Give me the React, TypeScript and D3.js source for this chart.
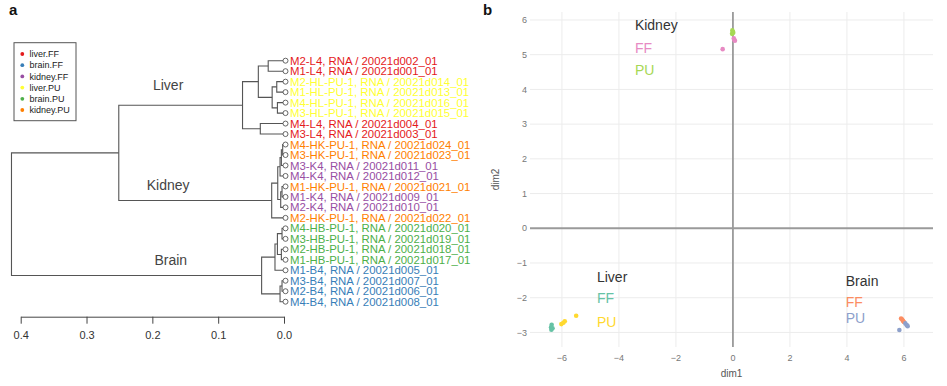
import React, { useEffect, useRef } from "react";
import * as d3 from "d3";

const W = 947;
const H = 386;

// ---- panel a: hierarchical clustering ----
const groups = ["liver.FF", "brain.FF", "kidney.FF", "liver.PU", "brain.PU", "kidney.PU"];
const groupColors = ["#e41a1c", "#377eb8", "#984ea3", "#ffff33", "#4daf4a", "#ff7f00"];

const leafLabels = [
  "M2-L4, RNA / 20021d002_01",
  "M1-L4, RNA / 20021d001_01",
  "M2-HL-PU-1, RNA / 20021d014_01",
  "M1-HL-PU-1, RNA / 20021d013_01",
  "M4-HL-PU-1, RNA / 20021d016_01",
  "M3-HL-PU-1, RNA / 20021d015_01",
  "M4-L4, RNA / 20021d004_01",
  "M3-L4, RNA / 20021d003_01",
  "M4-HK-PU-1, RNA / 20021d024_01",
  "M3-HK-PU-1, RNA / 20021d023_01",
  "M3-K4, RNA / 20021d011_01",
  "M4-K4, RNA / 20021d012_01",
  "M1-HK-PU-1, RNA / 20021d021_01",
  "M1-K4, RNA / 20021d009_01",
  "M2-K4, RNA / 20021d010_01",
  "M2-HK-PU-1, RNA / 20021d022_01",
  "M4-HB-PU-1, RNA / 20021d020_01",
  "M3-HB-PU-1, RNA / 20021d019_01",
  "M2-HB-PU-1, RNA / 20021d018_01",
  "M1-HB-PU-1, RNA / 20021d017_01",
  "M1-B4, RNA / 20021d005_01",
  "M3-B4, RNA / 20021d007_01",
  "M2-B4, RNA / 20021d006_01",
  "M4-B4, RNA / 20021d008_01",
];

const leafGroups = [
  "liver.FF", "liver.FF", "liver.PU", "liver.PU", "liver.PU", "liver.PU", "liver.FF", "liver.FF",
  "kidney.PU", "kidney.PU", "kidney.FF", "kidney.FF", "kidney.PU", "kidney.FF", "kidney.FF", "kidney.PU",
  "brain.PU", "brain.PU", "brain.PU", "brain.PU", "brain.FF", "brain.FF", "brain.FF", "brain.FF",
];

// hclust-style merge list: negative = leaf (1-based), positive = earlier merge
const merges: [number, number, number][] = [
  [-1, -2, 0.024],
  [-3, -4, 0.011],
  [-5, -6, 0.01],
  [2, 3, 0.018],
  [1, 4, 0.039],
  [-7, -8, 0.036],
  [5, 6, 0.063],
  [-9, -10, 0.002],
  [8, -11, 0.004],
  [9, -12, 0.006],
  [-13, -14, 0.003],
  [11, -15, 0.005],
  [10, 12, 0.0095],
  [13, -16, 0.0187],
  [7, 14, 0.251],
  [-17, -18, 0.003],
  [-19, -20, 0.004],
  [16, 17, 0.01],
  [18, -21, 0.0137],
  [-22, -23, 0.003],
  [20, -24, 0.006],
  [19, 21, 0.034],
  [15, 22, 0.414],
];

const heightTicks = [0.4, 0.3, 0.2, 0.1, 0.0];

// ---- panel b: MDS ----
const kidneyFF = [[-0.36, 5.16], [0.05, 5.43], [0.07, 5.4], [0.03, 5.47]];
const kidneyPU = [[-0.03, 5.6], [0.0, 5.66], [-0.02, 5.7], [0.01, 5.63]];
const liverFF = [[-6.36, -2.78], [-6.38, -2.85], [-6.37, -2.92], [-6.33, -2.88]];
const liverPU = [[-6.02, -2.76], [-5.95, -2.72], [-5.9, -2.68], [-5.5, -2.52]];
const brainFF = [[5.9, -2.6], [5.94, -2.63], [5.97, -2.67], [6.0, -2.7]];
const brainPU = [[6.05, -2.74], [6.1, -2.79], [6.13, -2.82], [5.84, -2.93]];

const dim1Ticks = [-6, -4, -2, 0, 2, 4, 6];
const dim2Ticks = [-3, -2, -1, 0, 1, 2, 3, 4, 5, 6];

const set2 = {
  kidneyFF: "#e78ac3",
  kidneyPU: "#a6d854",
  liverFF: "#66c2a5",
  liverPU: "#ffd92f",
  brainFF: "#fc8d62",
  brainPU: "#8da0cb",
};

const FONT = "'Liberation Sans', Arial, Helvetica, sans-serif";

export default function App() {
  const ref = useRef<SVGSVGElement>(null);

  useEffect(() => {
    const svg = d3.select(ref.current);
    svg.selectAll("*").remove();
    svg.attr("width", W).attr("height", H).style("font-family", FONT);
    svg.append("rect").attr("width", W).attr("height", H).attr("fill", "#fff");

    // ================= panel a =================
    const xH = d3.scaleLinear().domain([0, 0.4]).range([284, 20.7]);
    const yL = d3.scaleLinear().domain([0, leafLabels.length - 1]).range([60.7, 301.7]);
    const color = d3.scaleOrdinal<string, string>().domain(groups).range(groupColors);

    type N = { h: number; index?: number; name?: string; group?: string; children?: N[] };
    const built: N[] = [];
    const node = (k: number): N =>
      k < 0
        ? { h: 0, index: -k - 1, name: leafLabels[-k - 1], group: leafGroups[-k - 1] }
        : built[k - 1];
    merges.forEach(([a, b, h]) => built.push({ h, children: [node(a), node(b)] }));
    const root = d3.hierarchy<N>(built[built.length - 1]);
    const pos = new Map<any, { x: number; y: number }>();
    root.eachAfter((n) => {
      const y = n.children
        ? d3.mean(n.children, (c) => pos.get(c)!.y)!
        : yL(n.data.index!);
      pos.set(n, { x: xH(n.data.h), y });
    });

    const ga = svg.append("g");
    ga.append("clipPath").attr("id", "clipA").append("rect").attr("x", 0).attr("y", 0).attr("width", 474).attr("height", H);

    ga.append("text").attr("x", 9).attr("y", 15).attr("font-size", 15).attr("font-weight", "bold").attr("fill", "#111").text("a");

    ga.append("g")
      .selectAll("path")
      .data(root.descendants().filter((d) => d.children))
      .enter()
      .append("path")
      .attr("fill", "none")
      .attr("stroke", "#555")
      .attr("stroke-width", 1.1)
      .attr("d", (d) => {
        const p = pos.get(d)!;
        const c0 = pos.get(d.children![0])!;
        const c1 = pos.get(d.children![1])!;
        return `M${c0.x},${c0.y}H${p.x}V${c1.y}H${c1.x}`;
      });

    const leaves = root.leaves();
    ga.append("g")
      .selectAll("circle")
      .data(leaves)
      .enter()
      .append("circle")
      .attr("cx", (d) => pos.get(d)!.x + 1.5)
      .attr("cy", (d) => pos.get(d)!.y)
      .attr("r", 2.5)
      .attr("fill", "#fff")
      .attr("stroke", "#555")
      .attr("stroke-width", 0.9);

    ga.append("g")
      .attr("clip-path", "url(#clipA)")
      .selectAll("text")
      .data(leaves)
      .enter()
      .append("text")
      .attr("x", (d) => pos.get(d)!.x + 6)
      .attr("y", (d) => pos.get(d)!.y)
      .attr("dy", "0.36em")
      .attr("font-size", 11.4)
      .attr("fill", (d) => color(d.data.group!))
      .text((d) => d.data.name!);

    const clusterText = [
      { t: "Liver", h: 0.176, y: 90 },
      { t: "Kidney", h: 0.176, y: 190 },
      { t: "Brain", h: 0.172, y: 265 },
    ];
    ga.append("g")
      .selectAll("text")
      .data(clusterText)
      .enter()
      .append("text")
      .attr("x", (d) => xH(d.h))
      .attr("y", (d) => d.y)
      .attr("text-anchor", "middle")
      .attr("font-size", 14)
      .attr("fill", "#444")
      .text((d) => d.t);

    const axisA = ga.append("g").attr("transform", "translate(0,316.7)");
    axisA.call(
      d3.axisBottom(xH).tickValues(heightTicks).tickFormat(d3.format(".1f")).tickSize(7).tickSizeOuter(0).tickPadding(8)
    );
    axisA.select(".domain").attr("stroke", "#444");
    axisA.selectAll(".tick line").attr("stroke", "#444");
    axisA.selectAll("text").attr("font-size", 11).attr("fill", "#333").attr("font-family", FONT);

    // legend
    const lg = ga.append("g");
    lg.append("rect").attr("x", 14).attr("y", 42.7).attr("width", 62).attr("height", 78).attr("fill", "#fff").attr("stroke", "#555").attr("stroke-width", 1);
    const li = lg.selectAll("g.item").data(groups).enter().append("g").attr("class", "item")
      .attr("transform", (_, i) => `translate(0,${54 + i * 11.2})`);
    li.append("circle").attr("cx", 22.3).attr("cy", 0).attr("r", 1.9).attr("fill", (d) => color(d));
    li.append("text").attr("x", 29.5).attr("y", 0).attr("dy", "0.35em").attr("font-size", 9).attr("fill", "#222").text((d) => d);

    // ================= panel b =================
    const xS = d3.scaleLinear().domain([-7.12, 7.02]).range([530, 933]);
    const yS = d3.scaleLinear().domain([-3.42, 6.23]).range([347, 12]);
    const gb = svg.append("g");

    gb.append("text").attr("x", 483).attr("y", 15).attr("font-size", 15).attr("font-weight", "bold").attr("fill", "#111").text("b");

    gb.append("g").selectAll("line").data(dim1Ticks.filter((d) => d !== 0)).enter().append("line")
      .attr("x1", (d) => xS(d)).attr("x2", (d) => xS(d)).attr("y1", yS.range()[1]).attr("y2", yS.range()[0])
      .attr("stroke", "#ececec").attr("stroke-width", 1);
    gb.append("g").selectAll("line").data(dim2Ticks.filter((d) => d !== 0)).enter().append("line")
      .attr("y1", (d) => yS(d)).attr("y2", (d) => yS(d)).attr("x1", xS.range()[0]).attr("x2", xS.range()[1])
      .attr("stroke", "#ececec").attr("stroke-width", 1);

    gb.append("line").attr("x1", xS(0)).attr("x2", xS(0)).attr("y1", yS.range()[1]).attr("y2", yS.range()[0])
      .attr("stroke", "#9a9a9a").attr("stroke-width", 1.8);
    gb.append("line").attr("y1", yS(0)).attr("y2", yS(0)).attr("x1", xS.range()[0]).attr("x2", xS.range()[1])
      .attr("stroke", "#9a9a9a").attr("stroke-width", 1.8);

    const fmt = d3.format("d");
    gb.append("g").selectAll("text").data(dim1Ticks).enter().append("text")
      .attr("x", (d) => xS(d)).attr("y", 361).attr("text-anchor", "middle")
      .attr("font-size", 9).attr("fill", "#777").text((d) => fmt(d));
    gb.append("g").selectAll("text").data(dim2Ticks).enter().append("text")
      .attr("x", 527).attr("y", (d) => yS(d)).attr("dy", "0.35em").attr("text-anchor", "end")
      .attr("font-size", 9).attr("fill", "#777").text((d) => fmt(d));

    gb.append("text").attr("x", (xS.range()[0] + xS.range()[1]) / 2).attr("y", 377).attr("text-anchor", "middle")
      .attr("font-size", 10).attr("fill", "#555").text("dim1");
    gb.append("text").attr("transform", `translate(499,${(yS.range()[0] + yS.range()[1]) / 2}) rotate(-90)`)
      .attr("text-anchor", "middle").attr("font-size", 10).attr("fill", "#555").text("dim2");

    const series = [
      { pts: liverFF, c: set2.liverFF },
      { pts: liverPU, c: set2.liverPU },
      { pts: kidneyFF, c: set2.kidneyFF },
      { pts: kidneyPU, c: set2.kidneyPU },
      { pts: brainFF, c: set2.brainFF },
      { pts: brainPU, c: set2.brainPU },
    ];
    series.forEach((s) => {
      gb.append("g").selectAll("circle").data(s.pts).enter().append("circle")
        .attr("cx", (d) => xS(d[0])).attr("cy", (d) => yS(d[1])).attr("r", 2.3).attr("fill", s.c);
    });

    const notes = [
      { t: "Kidney", x: -3.44, y: 5.71, c: "#333" },
      { t: "FF", x: -3.44, y: 5.05, c: set2.kidneyFF },
      { t: "PU", x: -3.44, y: 4.42, c: set2.kidneyPU },
      { t: "Liver", x: -4.77, y: -1.55, c: "#333" },
      { t: "FF", x: -4.77, y: -2.15, c: set2.liverFF },
      { t: "PU", x: -4.77, y: -2.84, c: set2.liverPU },
      { t: "Brain", x: 3.96, y: -1.66, c: "#333" },
      { t: "FF", x: 3.96, y: -2.27, c: set2.brainFF },
      { t: "PU", x: 3.96, y: -2.72, c: set2.brainPU },
    ];
    gb.append("g").selectAll("text").data(notes).enter().append("text")
      .attr("x", (d) => xS(d.x)).attr("y", (d) => yS(d.y))
      .attr("font-size", 14).attr("fill", (d) => d.c).text((d) => d.t);
  }, []);

  return <svg ref={ref} style={{ position: "absolute", left: 0, top: 0, display: "block" }} />;
}
